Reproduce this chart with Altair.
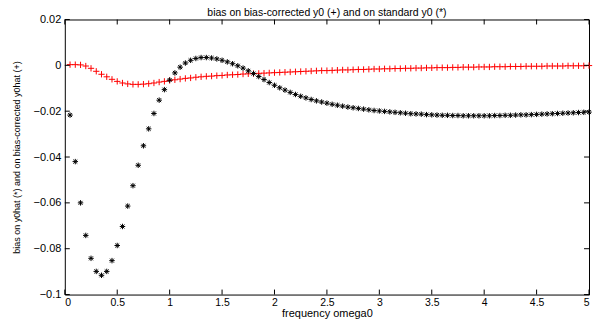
import altair as alt
import pandas as pd

# frequency grid (omega0)
omega = [round(0.05 * k, 2) for k in range(1, 101)]

# bias on standard y0hat (*)
bias_standard = [
    -0.0217, -0.0420, -0.0600, -0.0742, -0.0842, -0.0899, -0.0916, -0.0899, -0.0852, -0.0786,
    -0.0703, -0.0614, -0.0525, -0.0436, -0.0351, -0.0277, -0.0210, -0.0152, -0.0106, -0.0064,
    -0.0033, -0.0008, 0.0010, 0.0022, 0.0030, 0.0034, 0.0034, 0.0032, 0.0028, 0.0022,
    0.0015, 0.0007, -0.0002, -0.0012, -0.0024, -0.0036, -0.0049, -0.0062, -0.0075, -0.0087,
    -0.0098, -0.0108, -0.0118, -0.0127, -0.0135, -0.0142, -0.0149, -0.0155, -0.0160, -0.0165,
    -0.0170, -0.0174, -0.0178, -0.0182, -0.0185, -0.0188, -0.0191, -0.0194, -0.0197, -0.0199,
    -0.0201, -0.0203, -0.0205, -0.0207, -0.0209, -0.0211, -0.0212, -0.0213, -0.0215, -0.0216,
    -0.0217, -0.0218, -0.0218, -0.0219, -0.0219, -0.0220, -0.0220, -0.0220, -0.0220, -0.0220,
    -0.0220, -0.0219, -0.0219, -0.0218, -0.0218, -0.0217, -0.0216, -0.0216, -0.0215, -0.0214,
    -0.0213, -0.0212, -0.0211, -0.0210, -0.0209, -0.0208, -0.0207, -0.0206, -0.0205, -0.0204,
]

# bias on bias-corrected y0hat (+)
bias_corrected = [
    0.0003, 0.0003, 0.0002, -0.0003, -0.0013, -0.0026, -0.0039, -0.0050, -0.0061, -0.0070,
    -0.0077, -0.0081, -0.0083, -0.0083, -0.0082, -0.0080, -0.0077, -0.0073, -0.0070, -0.0066,
    -0.0063, -0.0060, -0.0057, -0.0055, -0.0052, -0.0050, -0.0048, -0.0047, -0.0045, -0.0044,
    -0.0042, -0.0041, -0.0040, -0.0038, -0.0037, -0.0036, -0.0035, -0.0034, -0.0033, -0.0032,
    -0.0031, -0.0030, -0.0029, -0.0028, -0.0027, -0.0026, -0.0025, -0.0024, -0.0023, -0.0023,
    -0.0022, -0.0021, -0.0020, -0.0020, -0.0019, -0.0018, -0.0018, -0.0017, -0.0016, -0.0016,
    -0.0015, -0.0015, -0.0014, -0.0014, -0.0013, -0.0013, -0.0012, -0.0012, -0.0011, -0.0011,
    -0.0010, -0.0010, -0.0010, -0.0009, -0.0009, -0.0008, -0.0008, -0.0008, -0.0007, -0.0007,
    -0.0007, -0.0006, -0.0006, -0.0006, -0.0005, -0.0005, -0.0005, -0.0004, -0.0004, -0.0004,
    -0.0004, -0.0003, -0.0003, -0.0003, -0.0003, -0.0002, -0.0002, -0.0002, -0.0002, -0.0001,
]

x_ticks = [0, 0.5, 1, 1.5, 2, 2.5, 3, 3.5, 4, 4.5, 5]
y_ticks = [0.02, 0, -0.02, -0.04, -0.06, -0.08, -0.1]

title_text = "bias on bias-corrected y0 (+) and on standard y0 (*)"
x_title = "frequency omega0"
y_title = "bias on y0hat (*) and on bias-corrected y0hat (+)"

W, H = 526, 276
FONT = "Liberation Sans"

df_s = pd.DataFrame({"omega": omega, "bias": bias_standard})
df_c = pd.DataFrame({"omega": omega, "bias": bias_corrected})
df_xt = pd.DataFrame({"omega": x_ticks})
df_yt = pd.DataFrame({"bias": y_ticks})

xs = alt.Scale(domain=[0, 5], nice=False, zero=False)
ys = alt.Scale(domain=[-0.1, 0.02], nice=False, zero=False)

ASTERISK = "M-1,0L1,0M0,-1L0,1M-0.72,-0.72L0.72,0.72M-0.72,0.72L0.72,-0.72"
PLUS = "M-1,0L1,0M0,-1L0,1"

x_axis = alt.Axis(title=x_title, values=x_ticks, format="~g", ticks=False, domain=False,
                  grid=False, labelPadding=3, titlePadding=0, labelFontSize=10.5,
                  titleFontSize=11, titleFontWeight="normal", labelFont=FONT, titleFont=FONT,
                  labelColor="black", titleColor="black")
y_axis = alt.Axis(title=y_title, values=y_ticks, format="~g", ticks=False, domain=False,
                  grid=False, labelPadding=4, titlePadding=12, labelFontSize=11,
                  titleFontSize=9, titleFontWeight="normal", labelFont=FONT, titleFont=FONT,
                  labelColor="black", titleColor="black")

X = alt.X("omega:Q", scale=xs, axis=x_axis)
Y = alt.Y("bias:Q", scale=ys, axis=y_axis)

red = alt.Chart(df_c).mark_point(shape=PLUS, filled=False, color="#ff0000", size=40,
                                 strokeWidth=1, opacity=1).encode(x=X, y=Y)
black = alt.Chart(df_s).mark_point(shape=ASTERISK, filled=False, color="black", size=30,
                                   strokeWidth=1, opacity=1).encode(x=X, y=Y)

tick_len = 5
bottom_ticks = alt.Chart(df_xt).mark_rule(color="black", strokeWidth=1).encode(
    x=X, y=alt.value(H), y2=alt.value(H - tick_len))
top_ticks = alt.Chart(df_xt).mark_rule(color="black", strokeWidth=1).encode(
    x=X, y=alt.value(0), y2=alt.value(tick_len))
left_ticks = alt.Chart(df_yt).mark_rule(color="black", strokeWidth=1).encode(
    y=Y, x=alt.value(0), x2=alt.value(tick_len))
right_ticks = alt.Chart(df_yt).mark_rule(color="black", strokeWidth=1).encode(
    y=Y, x=alt.value(W), x2=alt.value(W - tick_len))

chart = alt.layer(red, black, bottom_ticks, top_ticks, left_ticks, right_ticks).properties(
    width=W,
    height=H,
    title=alt.TitleParams(title_text, fontSize=10.5, fontWeight="normal", font=FONT,
                          color="black", offset=0, dy=5, anchor="middle"),
    autosize=alt.AutoSizeParams(type="none"),
    padding={"left": 57, "top": 11, "right": 5, "bottom": 25},
    background="white",
).configure_view(stroke="black", strokeWidth=1)

chart.save("out.html", embed_options={"renderer": "svg", "actions": False})
